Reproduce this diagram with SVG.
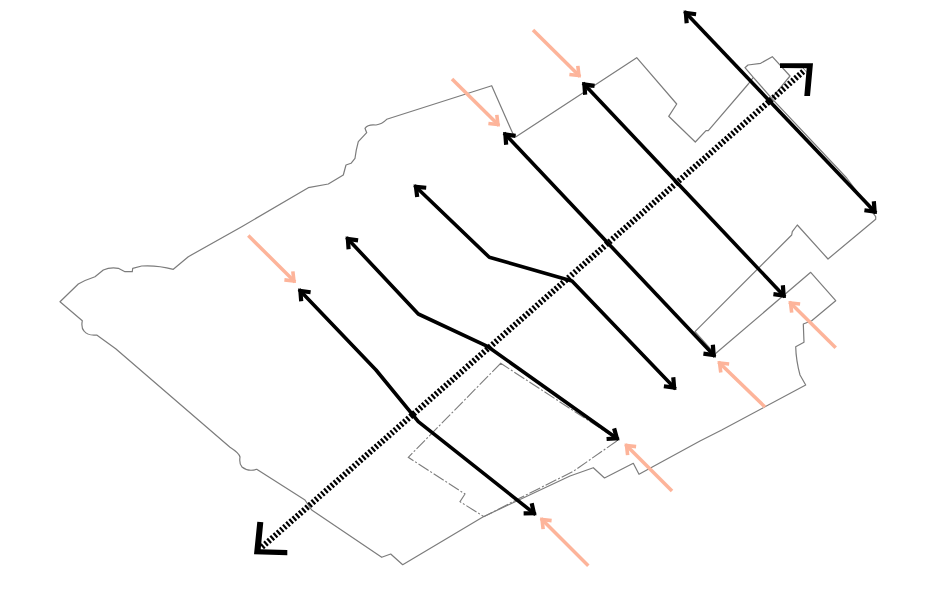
<svg xmlns="http://www.w3.org/2000/svg" width="946" height="607" viewBox="0 0 946 607">
<style>
.outline{fill:none;stroke:#7c7c7c;stroke-width:1.2;stroke-linejoin:round}
.site{fill:none;stroke:#7c7c7c;stroke-width:1.1;stroke-dasharray:12 2 2 2}
.section{fill:none;stroke:#000;stroke-width:3.6;stroke-linejoin:round;marker-start:url(#bh);marker-end:url(#bh)}
.access{fill:none;stroke:#fdb49a;stroke-width:3.5;marker-end:url(#sh)}
.axis{fill:none;stroke:#000;stroke-width:6;stroke-dasharray:2.2 2}
.corner{fill:#000}
</style>
<defs>
<marker id="bh" markerUnits="userSpaceOnUse" viewBox="-14 -10 16 20" refX="0" refY="0" markerWidth="16" markerHeight="20" orient="auto-start-reverse">
<path d="M-10 -6.5L-2 0L-10 6.5" fill="none" stroke="#000" stroke-width="4.2"/>
</marker>
<marker id="sh" markerUnits="userSpaceOnUse" viewBox="-14 -10 16 20" refX="0" refY="0" markerWidth="16" markerHeight="20" orient="auto">
<path d="M-9 -6L-1.5 0L-9 6" fill="none" stroke="#fdb49a" stroke-width="3.6"/>
</marker>
</defs>
<g id="boundary">
<path class="outline" d="M60 301.7L82.3 320.7Q81 328 84 331Q88 336 96.7 335L115.7 348.7L230 447.3Q239 453 240 457Q239 464 242 467Q248 472 256.7 469.3L305 500L308.3 505L311.7 510L381.7 557.3L390.7 554L402.7 564.7L483.3 516.7L570 476L593.3 467.7L604.5 478L633.3 463.3L639 474.3L700 441L721.7 430L805.7 385L800 375Q796 360 795.7 346.7L804 342.3L803.3 324L811.7 320.7L835.7 300.7L810.7 272.3L715 354L695 331.7L791.7 235L792.3 231.7L797.3 225L828 259L875.7 219.3L875.7 216.7L846.7 178L771.7 98.3L790 76L772.3 56.7L760.7 63.3L748 65L745 67.7L753.3 77.3L748.3 84L708.3 130.7L706 130.7L695.3 142L668.7 116.3L676.7 104L636.7 57.7L516 136.7L512.7 133.3L491.7 85.7L386.7 119.3Q382 124 376 125Q368 124 365 128.3L366.7 132.7L358.3 141.7Q356 150 355 158.3L351 163.3L346 165L343.3 175L328.3 184L308.3 187.7L241.7 226.7L188.3 256.7L173.3 269.3Q157 265 141.7 266L132.7 268.3L132.3 271.7L125 271.7L118.3 268.3Q110 267 103.3 270L95 276.7Q85 280 78.3 284Z"/>
<path class="outline" d="M753.3 77.3L771.7 98.3"/>
</g>
<g id="site">
<path class="site" d="M500.7 363.3L408.3 457.3L465 494L460 501.7L484 516.7L520 498L573 471.5L618.3 440Z"/>
</g>
<g id="connectors">
<path class="axis" d="M262 547L805 70"/>
<path class="section" d="M684.5 11.5L876 213"/>
<path class="section" d="M583 83L785 297"/>
<path class="section" d="M504 133L715 356.5"/>
<path class="section" d="M414.5 185.5L489.3 257.3L572 281L675.5 389"/>
<path class="section" d="M346.5 237.5L418.3 314L488 346.7L618.5 439.5"/>
<path class="section" d="M299 289.5L376 370L418.3 421.7L535.5 514.5"/>
<path class="access" d="M248.3 235.5L295 282"/>
<path class="access" d="M452 79L499 125.5"/>
<path class="access" d="M533 30L580 76.5"/>
<path class="access" d="M835.7 347.7L789.5 302"/>
<path class="access" d="M765 407L718.5 362"/>
<path class="access" d="M672 491L625.5 444.5"/>
<path class="access" d="M588.3 565.7L541 518.5"/>
</g>
<g id="corner-ne">
<polygon class="corner" points="780,63.3 813,63.3 810,96 804.3,96 806.7,68.3 780,68"/>
</g>
<g id="corner-sw">
<polygon class="corner" points="257.3,521.7 263.3,522.3 260.7,549.3 287.3,550 287.3,555.3 254,554.3"/>
</g>
</svg>
